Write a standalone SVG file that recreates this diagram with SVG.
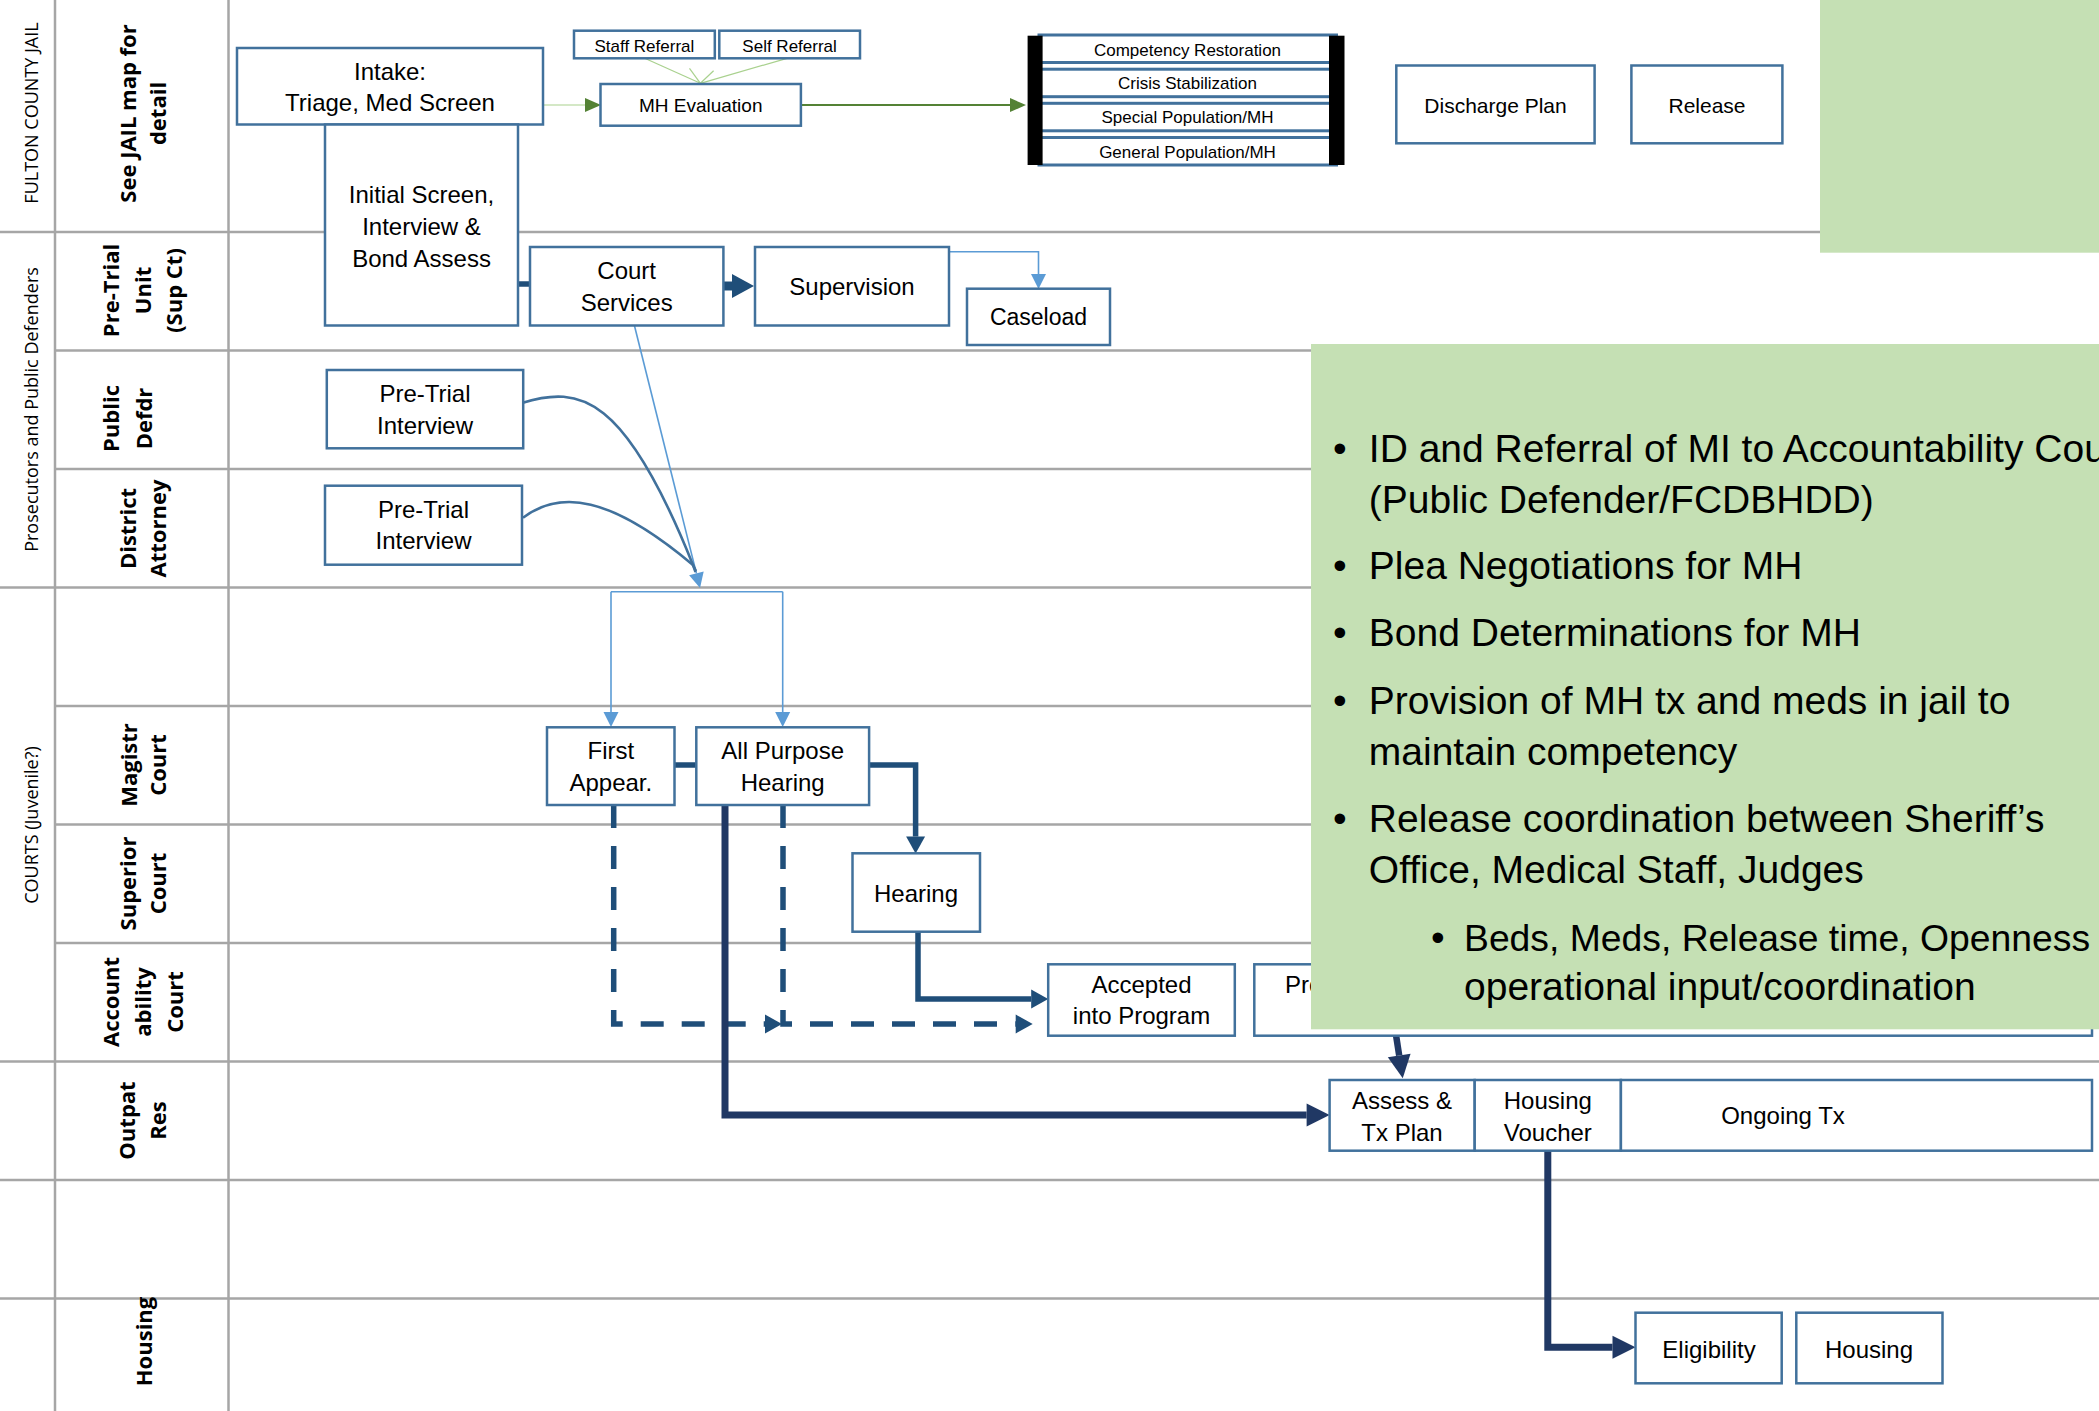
<svg xmlns="http://www.w3.org/2000/svg" width="2099" height="1411" viewBox="0 0 2099 1411">
<defs>
<style>
.lane{stroke:#A6A6A6;stroke-width:2.5;fill:none}
.node{fill:#ffffff;stroke:#41719C;stroke-width:2.5}
.t{font-family:"Liberation Sans",Arial,sans-serif;font-size:24px;fill:#000;text-anchor:middle}
.ts{font-size:17px}
.tm{font-size:19px}
.tl{font-size:21px}
.lab{font-family:"Open Sans","Liberation Sans",sans-serif;font-weight:700;font-size:22px;fill:#000;text-anchor:middle}
.grp{font-family:"Open Sans","Liberation Sans",sans-serif;font-size:18px;fill:#000;text-anchor:middle}
.bul{font-family:"Liberation Sans",Arial,sans-serif;font-size:39px;fill:#000}
.green{fill:#C5E0B4}
.c-lb{fill:none;stroke:#5B9BD5;stroke-width:1.6}
.c-g{fill:none;stroke:#548235;stroke-width:1.8}
.c-lg{fill:none;stroke:#A9D18E;stroke-width:1.2}
.c-db{fill:none;stroke:#1F4E79;stroke-width:5.5;stroke-linecap:butt}
.c-nv{fill:none;stroke:#203864;stroke-width:7;stroke-linecap:butt}
.c-cv{fill:none;stroke:#41719C;stroke-width:2.6}
.dash{stroke-dasharray:23 18}
</style>
<marker id="mG" markerUnits="userSpaceOnUse" orient="auto" refX="0" refY="0" markerWidth="16" markerHeight="14" overflow="visible"><path d="M0,-7 L16,0 L0,7 Z" fill="#548235"/></marker>
<marker id="mLB" markerUnits="userSpaceOnUse" orient="auto" refX="0" refY="0" markerWidth="15" markerHeight="16" overflow="visible"><path d="M0,-7.5 L15,0 L0,7.5 Z" fill="#5B9BD5"/></marker>
<marker id="mDB" markerUnits="userSpaceOnUse" orient="auto" refX="0" refY="0" markerWidth="17" markerHeight="20" overflow="visible"><path d="M0,-9.5 L17,0 L0,9.5 Z" fill="#1F4E79"/></marker>
<marker id="mBig" markerUnits="userSpaceOnUse" orient="auto" refX="0" refY="0" markerWidth="22" markerHeight="24" overflow="visible"><path d="M0,-12 L22,0 L0,12 Z" fill="#1F4E79"/></marker>
<marker id="mNv" markerUnits="userSpaceOnUse" orient="auto" refX="0" refY="0" markerWidth="23" markerHeight="24" overflow="visible"><path d="M0,-11.5 L23,0 L0,11.5 Z" fill="#203864"/></marker>
</defs>
<rect x="0" y="0" width="2099" height="1411" fill="#ffffff"/>

<g id="lanes">
<line class="lane" x1="55" y1="0" x2="55" y2="1411"/>
<line class="lane" x1="228.5" y1="0" x2="228.5" y2="1411"/>
<line class="lane" x1="0" y1="232" x2="2099" y2="232"/>
<line class="lane" x1="55" y1="350.5" x2="2099" y2="350.5"/>
<line class="lane" x1="55" y1="469" x2="2099" y2="469"/>
<line class="lane" x1="0" y1="587.5" x2="2099" y2="587.5"/>
<line class="lane" x1="55" y1="706" x2="2099" y2="706"/>
<line class="lane" x1="55" y1="824.5" x2="2099" y2="824.5"/>
<line class="lane" x1="55" y1="943" x2="2099" y2="943"/>
<line class="lane" x1="0" y1="1061.5" x2="2099" y2="1061.5"/>
<line class="lane" x1="0" y1="1180" x2="2099" y2="1180"/>
<line class="lane" x1="0" y1="1298.5" x2="2099" y2="1298.5"/>
</g>

<g id="lane-labels">
<text class="grp" transform="translate(37.5,113) rotate(-90)">FULTON COUNTY JAIL</text>
<text class="grp" transform="translate(37.5,409.5) rotate(-90)">Prosecutors and Public Defenders</text>
<text class="grp" transform="translate(37.5,825) rotate(-90)">COURTS (Juvenile?)</text>

<text class="lab" transform="translate(136,113.5) rotate(-90)">See JAIL map for</text>
<text class="lab" transform="translate(165.5,113.5) rotate(-90)">detail</text>

<text class="lab" transform="translate(118.5,290.5) rotate(-90)">Pre-Trial</text>
<text class="lab" transform="translate(150.5,290.5) rotate(-90)">Unit</text>
<text class="lab" transform="translate(182,290.5) rotate(-90)">(Sup Ct)</text>

<text class="lab" transform="translate(118.5,418.5) rotate(-90)">Public</text>
<text class="lab" transform="translate(151.5,418.5) rotate(-90)">Defdr</text>

<text class="lab" transform="translate(136,528.5) rotate(-90)">District</text>
<text class="lab" transform="translate(165.5,528.5) rotate(-90)">Attorney</text>

<text class="lab" transform="translate(136.5,765) rotate(-90)">Magistr</text>
<text class="lab" transform="translate(166,765) rotate(-90)">Court</text>

<text class="lab" transform="translate(136,883.5) rotate(-90)">Superior</text>
<text class="lab" transform="translate(166,883.5) rotate(-90)">Court</text>

<text class="lab" transform="translate(118.5,1002) rotate(-90)">Account</text>
<text class="lab" transform="translate(150.5,1002) rotate(-90)">ability</text>
<text class="lab" transform="translate(182.5,1002) rotate(-90)">Court</text>

<text class="lab" transform="translate(134.5,1120.5) rotate(-90)">Outpat</text>
<text class="lab" transform="translate(166,1120.5) rotate(-90)">Res</text>

<text class="lab" transform="translate(151.5,1341.5) rotate(-90)">Housing</text>
</g>

<g id="connectors">
<path class="c-lg" d="M543,105 L585,105" marker-end="url(#mG)"/>
<path class="c-g" d="M801,105 L1010,105" marker-end="url(#mG)"/>
<path class="c-lg" d="M644.7,58.3 L700.4,83.3"/>
<path class="c-lg" d="M787,58.3 L700.4,83.3"/>
<path class="c-lg" d="M689.5,68.3 L700.4,83.3"/>
<path class="c-lg" d="M713.6,70.7 L700.4,83.3"/>
<path class="c-lg" d="M682,85.7 L719.3,88.3"/>
<path class="c-db" d="M518,284 L530,284"/>
<path class="c-db" d="M723.4,286 L732,286" style="stroke-width:9" marker-end="url(#mBig)"/>
<path class="c-lb" d="M949,251.7 L1038.5,251.7 L1038.5,274" marker-end="url(#mLB)"/>
<path class="c-lb" d="M634.3,325 L696.4,573.4" marker-end="url(#mLB)"/>
<path class="c-cv" d="M522,403 C580,385 625,395 693,565 L695.5,572"/>
<path class="c-cv" d="M523,517.7 C560,490 610,495 693,565 L696,571"/>
<path class="c-lb" d="M611,591.7 L782.7,591.7"/>
<path class="c-lb" d="M611,591.7 L611,712" marker-end="url(#mLB)"/>
<path class="c-lb" d="M782.7,591.7 L782.7,712" marker-end="url(#mLB)"/>
<path class="c-db" d="M674.5,765 L696.3,765"/>
<path class="c-db" d="M869,765 L915.6,765 L915.6,836.5" marker-end="url(#mDB)"/>
<path class="c-db" d="M918,931.7 L918,999 L1031.2,999" marker-end="url(#mDB)"/>
<path class="c-db dash" d="M613.7,805 L613.7,1024 L765,1024" marker-end="url(#mDB)"/>
<path class="c-db dash" d="M783,805 L783,1024 L1015.7,1024" marker-end="url(#mDB)"/>
<path class="c-nv" d="M725,800 L725,1115 L1306.6,1115" marker-end="url(#mNv)"/>
<path class="c-nv" d="M1396,1035 L1399.2,1055.5" style="stroke-width:6.5" marker-end="url(#mNv)"/>
<path class="c-nv" d="M1547.8,1150.7 L1547.8,1347.3 L1612.5,1347.3" marker-end="url(#mNv)"/>
</g>

<g id="node-intake"><rect class="node" x="237" y="48" width="306" height="76.5"/><text class="t" x="390" y="80">Intake:</text><text class="t" x="390" y="111">Triage, Med Screen</text></g>
<g id="node-initial-screen"><rect class="node" x="325" y="124.5" width="193" height="201"/><text class="t" x="421.5" y="203.3">Initial Screen,</text><text class="t" x="421.5" y="235">Interview &amp;</text><text class="t" x="421.5" y="266.7">Bond Assess</text></g>
<g id="node-staff-referral"><rect class="node" x="574" y="30.7" width="140.8" height="27.6"/><text class="t ts" x="644.4" y="51.5">Staff Referral</text></g>
<g id="node-self-referral"><rect class="node" x="719.3" y="30.7" width="140.7" height="27.6"/><text class="t ts" x="789.6" y="51.5">Self Referral</text></g>
<g id="node-mh-evaluation"><rect class="node" x="600.5" y="84" width="200.4" height="41.7"/><text class="t tm" x="700.7" y="112">MH Evaluation</text></g>
<g id="node-jail-housing">
<rect class="node" x="1039" y="35" width="297.5" height="27.5" style="stroke-width:3"/>
<rect class="node" x="1039" y="69.2" width="297.5" height="27.5" style="stroke-width:3"/>
<rect class="node" x="1039" y="103.3" width="297.5" height="27.5" style="stroke-width:3"/>
<rect class="node" x="1039" y="137.5" width="297.5" height="27.5" style="stroke-width:3"/>
<rect x="1027.6" y="35.7" width="15" height="129.3" fill="#000"/>
<rect x="1329" y="35.7" width="15.5" height="129.3" fill="#000"/>
<text class="t ts" x="1187.5" y="56">Competency Restoration</text>
<text class="t ts" x="1187.5" y="89">Crisis Stabilization</text>
<text class="t ts" x="1187.5" y="123.3">Special Population/MH</text>
<text class="t ts" x="1187.5" y="157.7">General Population/MH</text>
</g>
<g id="node-discharge-plan"><rect class="node" x="1396.3" y="65.5" width="198.3" height="77.8"/><text class="t tl" x="1495.5" y="112.5">Discharge Plan</text></g>
<g id="node-release"><rect class="node" x="1631.4" y="65.5" width="151" height="77.8"/><text class="t tl" x="1707" y="113">Release</text></g>
<g id="node-court-services"><rect class="node" x="530" y="247" width="193.4" height="78.5"/><text class="t" x="626.7" y="279.3">Court</text><text class="t" x="626.7" y="311">Services</text></g>
<g id="node-supervision"><rect class="node" x="755" y="247" width="194" height="78.5"/><text class="t" x="852" y="295">Supervision</text></g>
<g id="node-caseload"><rect class="node" x="967" y="288.7" width="143" height="56.3"/><text class="t" x="1038.5" y="325" style="font-size:23px">Caseload</text></g>
<g id="node-pd-interview"><rect class="node" x="326.8" y="370" width="196.4" height="78.3"/><text class="t" x="425" y="401.7">Pre-Trial</text><text class="t" x="425" y="434">Interview</text></g>
<g id="node-da-interview"><rect class="node" x="325" y="485.7" width="197" height="79"/><text class="t" x="423.5" y="517.7">Pre-Trial</text><text class="t" x="423.5" y="549.3">Interview</text></g>
<g id="node-first-appear"><rect class="node" x="547" y="727.3" width="127.5" height="77.7"/><text class="t" x="610.8" y="759.3">First</text><text class="t" x="610.8" y="790.7">Appear.</text></g>
<g id="node-all-purpose"><rect class="node" x="696.3" y="727.3" width="172.8" height="77.7"/><text class="t" x="782.7" y="759.3">All Purpose</text><text class="t" x="782.7" y="790.7">Hearing</text></g>
<g id="node-hearing"><rect class="node" x="852.5" y="853.3" width="127.5" height="78.4"/><text class="t" x="916" y="901.7">Hearing</text></g>
<g id="node-accepted"><rect class="node" x="1048.2" y="964.3" width="186.6" height="71.4"/><text class="t" x="1141.5" y="992.7">Accepted</text><text class="t" x="1141.5" y="1024">into Program</text></g>
<g id="node-pro"><rect class="node" x="1254.3" y="964.3" width="837.7" height="71.4"/><text class="t" x="1285" y="992.7" style="text-anchor:start">Pro</text></g>
<g id="node-assess"><rect class="node" x="1329.6" y="1080" width="145.1" height="70.7"/><text class="t" x="1402" y="1109.3">Assess &amp;</text><text class="t" x="1402" y="1140.7">Tx Plan</text></g>
<g id="node-voucher"><rect class="node" x="1474.7" y="1080" width="146.2" height="70.7"/><text class="t" x="1547.8" y="1109.3">Housing</text><text class="t" x="1547.8" y="1140.7">Voucher</text></g>
<g id="node-ongoing"><rect class="node" x="1620.9" y="1080" width="471.1" height="70.7"/><text class="t" x="1783" y="1124.3">Ongoing Tx</text></g>
<g id="node-eligibility"><rect class="node" x="1635.5" y="1312.7" width="146.2" height="70.6"/><text class="t" x="1709" y="1358.3">Eligibility</text></g>
<g id="node-housing"><rect class="node" x="1796.3" y="1312.7" width="146.2" height="70.6"/><text class="t" x="1869" y="1358.3">Housing</text></g>

<g id="callout-top"><rect class="green" x="1820" y="0" width="279" height="252.7"/></g>
<g id="callout-main">
<rect class="green" x="1311" y="344" width="788" height="685.3"/>
<text class="bul" x="1333" y="461.7">•</text>
<text class="bul" x="1368.8" y="461.7">ID and Referral of MI to Accountability Cou</text>
<text class="bul" x="1368.8" y="513">(Public Defender/FCDBHDD)</text>
<text class="bul" x="1333" y="578.7">•</text>
<text class="bul" x="1368.8" y="578.7">Plea Negotiations for MH</text>
<text class="bul" x="1333" y="645.6">•</text>
<text class="bul" x="1368.8" y="645.6">Bond Determinations for MH</text>
<text class="bul" x="1333" y="714">•</text>
<text class="bul" x="1368.8" y="714">Provision of MH tx and meds in jail to</text>
<text class="bul" x="1368.8" y="765.3">maintain competency</text>
<text class="bul" x="1333" y="832">•</text>
<text class="bul" x="1368.8" y="832">Release coordination between Sheriff’s</text>
<text class="bul" x="1368.8" y="882.7">Office, Medical Staff, Judges</text>
<text class="bul" x="1431" y="951.4">•</text>
<text class="bul" x="1464" y="951.4" style="font-size:37.3px">Beds, Meds, Release time, Openness</text>
<text class="bul" x="1464" y="999.6">operational input/coordination</text>
</g>
</svg>
